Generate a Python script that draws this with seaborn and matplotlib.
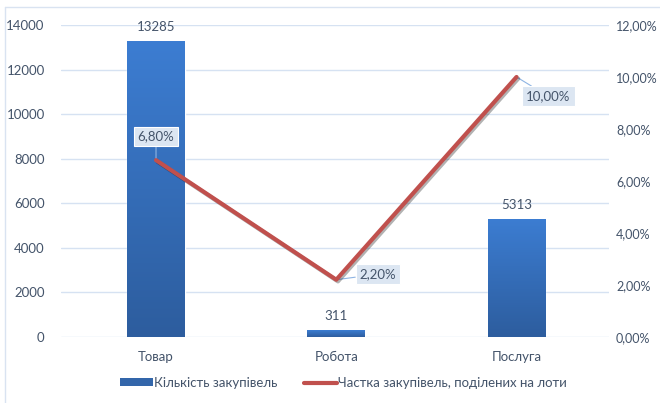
import numpy as np
import pandas as pd
import matplotlib
matplotlib.use('Agg')
import matplotlib.pyplot as plt
import matplotlib.patheffects as pe
import matplotlib.ticker as ticker
from matplotlib.lines import Line2D
from matplotlib.patches import Patch
import seaborn as sns

categories = ['Товар', 'Робота', 'Послуга']
counts = [13285, 311, 5313]
shares = [6.80, 2.20, 10.00]

sns.set_style('white')
plt.rcParams['font.family'] = ['Lato', 'DejaVu Sans']
txt = '#44546A'
fs = 9.5

df = pd.DataFrame({'cat': categories, 'count': counts, 'share': shares})

fig = plt.figure(figsize=(6.6, 4.03), dpi=100)
ax = fig.add_axes([0.093, 0.164, 0.830, 0.774])

sns.barplot(data=df, x='cat', y='count', color='#3A78C8', width=0.32,
            saturation=1, ax=ax, zorder=3)

# градієнт на стовпцях
grad = np.linspace(0, 1, 256).reshape(-1, 1)
cmap = matplotlib.colors.LinearSegmentedColormap.from_list('g', ['#2D5D9E', '#3C7DD2'])
for p in ax.patches:
    x0, y0 = p.get_x(), p.get_y()
    w, h = p.get_width(), p.get_height()
    im = ax.imshow(grad, extent=[x0, x0 + w, y0, y0 + h], origin='lower',
                   cmap=cmap, aspect='auto', zorder=3)
    im.set_clip_path(p)
    ax.annotate(f'{int(h)}', xy=(x0 + w / 2, h), xytext=(0, 10),
                textcoords='offset points', ha='center', va='center',
                fontsize=fs, color=txt)

ax.set_xlim(-0.525, 2.514)
ax.set_ylim(0, 14000)
ax.yaxis.set_major_locator(ticker.MultipleLocator(2000))
ax.grid(axis='y', color='#D6E2F2', linewidth=1)
ax.set_axisbelow(True)
ax.set_xlabel('')
ax.set_ylabel('')
ax.tick_params(axis='both', length=0, labelsize=fs, colors=txt)
ax.tick_params(axis='x', pad=10)
ax.tick_params(axis='y', pad=12)
for s in ax.spines.values():
    s.set_visible(False)

ax2 = ax.twinx()
sns.lineplot(x=[0, 1, 2], y=shares, ax=ax2, color='#C0504D', linewidth=3,
             zorder=5, path_effects=[pe.SimpleLineShadow(offset=(1.2, -1.2), alpha=0.3),
                                     pe.Normal()])
ax2.set_ylim(0, 12)
ax2.set_xlim(-0.525, 2.514)
ax2.yaxis.set_major_locator(ticker.MultipleLocator(2))
ax2.yaxis.set_major_formatter(ticker.FuncFormatter(lambda v, _: f'{v:.2f}%'.replace('.', ',')))
ax2.tick_params(axis='y', length=0, labelsize=9, colors=txt, pad=5)
ax2.grid(False)
for s in ax2.spines.values():
    s.set_visible(False)

offsets = [(0, 17), (30, 4), (23, -14)]
for i, (v, off) in enumerate(zip(shares, offsets)):
    ax2.annotate(f'{v:.2f}%'.replace('.', ','), xy=(i, v), xytext=off,
                 textcoords='offset points', ha='center', va='center',
                 fontsize=fs, color=txt,
                 bbox=dict(boxstyle='square,pad=0.3', fc='#DCE6F2', ec='#FFFFFF', lw=0.8),
                 arrowprops=dict(arrowstyle='-', color='#8EB4E3', lw=0.8,
                                 shrinkA=0, shrinkB=0))

handles = [Patch(facecolor='#3366AA', edgecolor='none'),
           Line2D([0], [0], color='#C0504D', linewidth=3)]
labels = ['Кількість закупівель', 'Частка закупівель, поділених на лоти']
fig.legend(handles, labels, loc='center', bbox_to_anchor=(0.52, 0.05), ncol=2,
           frameon=False, fontsize=fs, labelcolor=txt, handlelength=2.5,
           handleheight=0.5, columnspacing=2.0, handletextpad=0.1)

# рамка області діаграми
fig.add_artist(Line2D([5 / 660, 5 / 660], [0, 1 - 7 / 403], color='#D9E3F1', lw=1,
                      transform=fig.transFigure))
fig.add_artist(Line2D([5 / 660, 1], [1 - 7 / 403, 1 - 7 / 403], color='#D9E3F1', lw=1,
                      transform=fig.transFigure))

fig.savefig('out.png', dpi=100)
